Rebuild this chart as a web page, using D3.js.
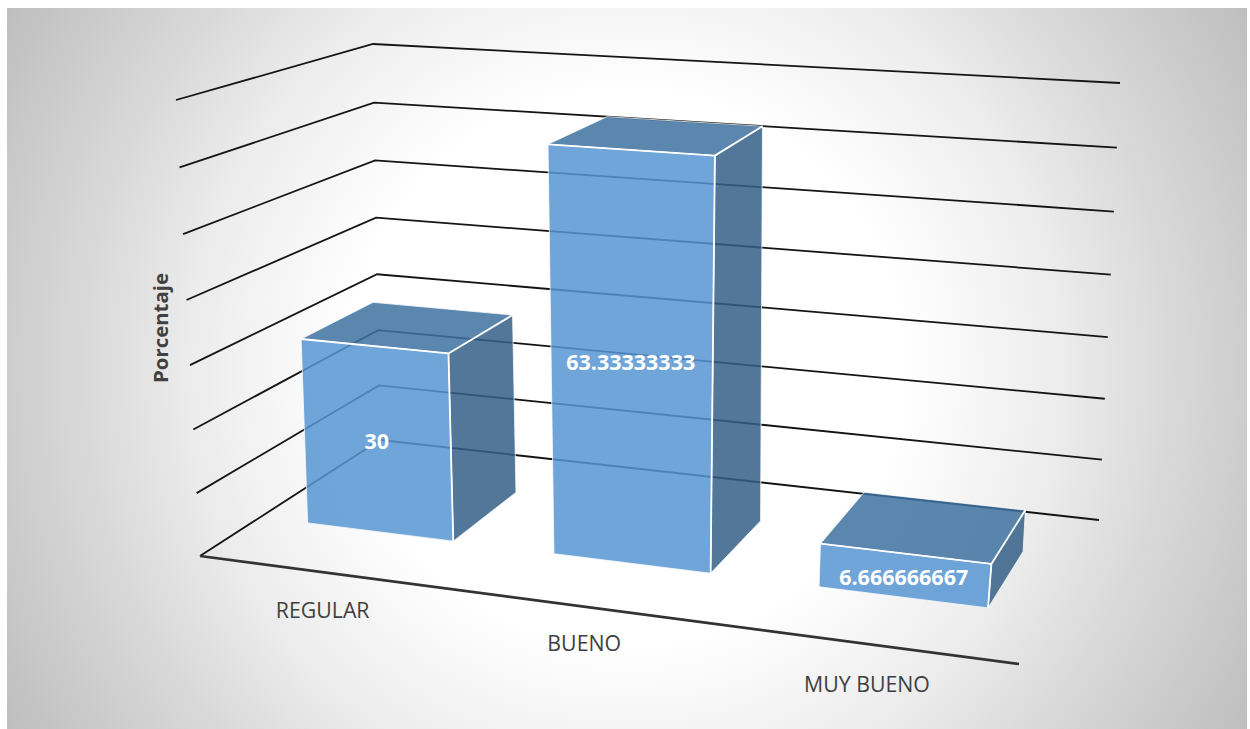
<!DOCTYPE html>
<html><head><meta charset="utf-8"><script src="https://d3js.org/d3.v7.min.js"></script>
<style>html,body{margin:0;padding:0;background:#fff}svg{display:block}text{font-family:"Open Sans",sans-serif}</style></head>
<body><svg id="c" width="1250" height="729"></svg>
<script>
// ---- data ----
const categories=["REGULAR","BUENO","MUY BUENO"];
const values=[30,63.33333333,6.666666667];
const valueLabels=["30","63.33333333","6.666666667"];
const gridTicks=[0,10,20,30,40,50,60,70];
const axisTitle="Porcentaje";

// ---- projection of the 3D box onto the page ----
const floorQuad=[[200,556],[1019,664],[1099,520],[380,440]];
const topQuad=[[176,100],[1075,161],[1120,83],[373,44]];
function homography(q){
 const [[x0,y0],[x1,y1],[x2,y2],[x3,y3]]=q;
 const dx1=x1-x2,dx2=x3-x2,dx3=x0-x1+x2-x3,dy1=y1-y2,dy2=y3-y2,dy3=y0-y1+y2-y3;
 const det=dx1*dy2-dx2*dy1;
 const i=(dx3*dy2-dx2*dy3)/det,j=(dx1*dy3-dx3*dy1)/det;
 const a=x1-x0+i*x1,b=x3-x0+j*x3,e=y1-y0+i*y1,f=y3-y0+j*y3;
 return (u,v)=>{const w=i*u+j*v+1;return [(a*u+b*v+x0)/w,(e*u+f*v+y0)/w];};
}
const floorH=homography(floorQuad),topH=homography(topQuad);
const q=0.04;
const y=d3.scaleLinear().domain([0,70]).range([0,1]);
const warp=t=>t*(1-q)/(1-q*t);
const project=(u,v,val)=>{
 const a=floorH(u,v),b=topH(u,v),t=warp(y(val));
 return [a[0]+(b[0]-a[0])*t,a[1]+(b[1]-a[1])*t];
};
const x=d3.scaleBand().domain(categories).range([0,1]).paddingInner(0.4).paddingOuter(0.2);
const z=d3.scaleLinear().domain([0,1]).range([0.305,0.705]); // bar depth
const xLabel=d3.scalePoint().domain(categories).range([0.178,0.838]);
const labelDrop=d3.scaleOrdinal().domain(categories).range([29,27,31]);

const svg=d3.select('#c');
const line=d3.line();
// ---- background ----
const defs=svg.append('defs');
const g=defs.append('radialGradient').attr('id','bg').attr('gradientUnits','userSpaceOnUse')
 .attr('cx',627).attr('cy',368).attr('r',725);
[[0,'#ffffff'],[0.38,'#ffffff'],[0.6,'#ececec'],[0.75,'#d9d9d9'],[1,'#bdbdbd']].forEach(s=>g.append('stop').attr('offset',s[0]).attr('stop-color',s[1]));
svg.append('rect').attr('x',7).attr('y',8).attr('width',1240).attr('height',721).attr('fill','url(#bg)');

// ---- grid ----
svg.append('g').selectAll('path').data(gridTicks).join('path')
 .attr('d',t=>line([project(0,0,t),project(0,1,t),project(1,1,t)]))
 .attr('fill','none').attr('stroke','#141414').attr('stroke-width',1.8).attr('stroke-linejoin','miter');
svg.append('path').attr('d',line([project(0,0,0),project(1,0,0)])).attr('fill','none').attr('stroke','#333').attr('stroke-width',2.6);

// ---- bars ----
const bars=svg.append('g').selectAll('g').data(categories.map((c,i)=>({c,v:values[i],l:valueLabels[i]}))).join('g');
const corners=d=>{
 const u0=x(d.c),u1=u0+x.bandwidth(),v0=z(0),v1=z(1);
 return {fb0:project(u0,v0,0),fb1:project(u1,v0,0),bb1:project(u1,v1,0),
  ft0:project(u0,v0,d.v),ft1:project(u1,v0,d.v),bt1:project(u1,v1,d.v),bt0:project(u0,v1,d.v)};
};
const face=(sel,fn,fill)=>sel.append('path').attr('d',d=>line(fn(corners(d)))+'Z').attr('fill',fill).attr('fill-opacity',0.85)
 .attr('stroke','#fff').attr('stroke-opacity',0.75).attr('stroke-width',1).attr('stroke-linejoin','round');
face(bars,c=>[c.fb1,c.bb1,c.bt1,c.ft1],'#345f87');
face(bars,c=>[c.ft0,c.ft1,c.bt1,c.bt0],'#3e72a0');
face(bars,c=>[c.fb0,c.fb1,c.ft1,c.ft0],'#5695d2');
[c=>[c.ft0,c.ft1],c=>[c.ft1,c.fb1],c=>[c.ft1,c.bt1]].forEach(fn=>
 bars.append('path').attr('d',d=>line(fn(corners(d)))).attr('stroke','#fff').attr('stroke-width',1.8).attr('fill','none'));

// ---- labels ----
bars.append('text').text(d=>d.l)
 .attr('x',d=>project(x(d.c)+x.bandwidth()/2,0.305,d.v/2)[0])
 .attr('y',d=>project(x(d.c)+x.bandwidth()/2,0.305,d.v/2)[1]+1)
 .attr('text-anchor','middle').attr('dominant-baseline','central')
 .attr('fill','#fff').attr('font-weight',700).attr('font-size',21.5);
svg.append('g').selectAll('text').data(categories).join('text').text(d=>d)
 .attr('x',d=>project(xLabel(d),-0.05,0)[0])
 .attr('y',d=>project(xLabel(d),-0.05,0)[1]+labelDrop(d))
 .attr('text-anchor','middle').attr('dominant-baseline','central')
 .attr('fill','#404040').attr('font-size',21.3);
svg.append('text').text(axisTitle).attr('transform','translate(160,328) rotate(-90)')
 .attr('text-anchor','middle').attr('dominant-baseline','central')
 .attr('fill','#404040').attr('font-weight',700).attr('font-size',20.4);
</script></body></html>
